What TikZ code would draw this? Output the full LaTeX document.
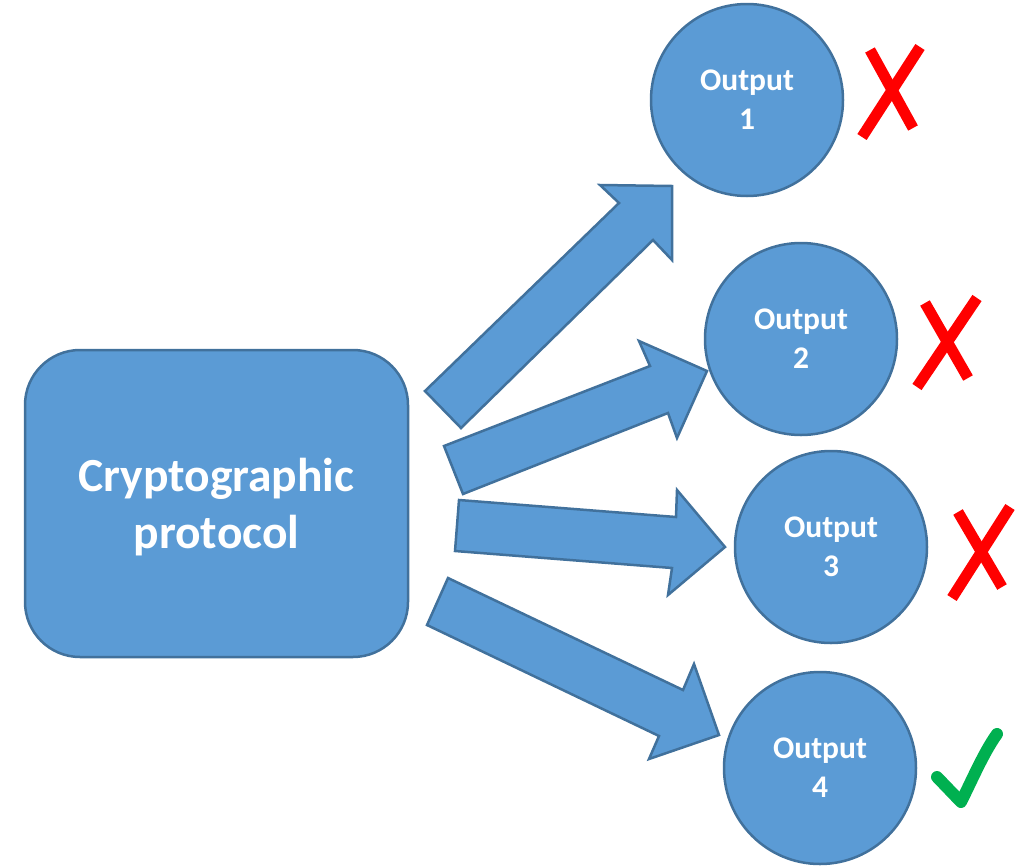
\documentclass[tikz,border=0pt]{standalone}
\usepackage{fontspec}
\setmainfont{Carlito}
\definecolor{fillblue}{HTML}{5B9BD5}
\definecolor{edgeblue}{HTML}{41719C}
\definecolor{crossred}{HTML}{FF0000}
\definecolor{tickgreen}{HTML}{00B050}
\tikzset{
  shapebase/.style={fill=fillblue, draw=edgeblue, line width=2.5pt},
  protocolbox/.style={shapebase, rectangle, rounded corners=55pt,
    minimum width=383pt, minimum height=307pt},
  protocoltext/.style={text=white, align=center,
    font=\bfseries\fontsize{47.5}{57}\selectfont},
  outcircle/.style={shapebase, circle, minimum size=192pt, inner sep=0pt,
    text=white, align=center, font=\bfseries\fontsize{31.5}{39}\selectfont},
  blockarrow/.style={shapebase, line join=miter},
  crossmark/.style={draw=crossred, line width=11pt, line cap=butt},
  tickmark/.style={draw=tickgreen, line width=12pt, line cap=round, line join=round}
}
\begin{document}
\begin{tikzpicture}[x=1pt, y=-1pt]
\useasboundingbox (0,0) rectangle (1020,865);

% block arrows from the protocol to the outputs
\draw[blockarrow] (425,391) -- (619,203) -- (600,185) -- (672,186)
  -- (672,260) -- (653,240) -- (461,428) -- cycle;
\draw[blockarrow] (444,446) -- (650,366) -- (639,341) -- (707,371)
  -- (677,438) -- (668,413) -- (463,494) -- cycle;
\draw[blockarrow] (459,500) -- (676,517) -- (677,490) -- (725,547)
  -- (668,595) -- (672,568) -- (455,551) -- cycle;
\draw[blockarrow] (448,578) -- (683,690) -- (694,664) -- (719,735)
  -- (649,759) -- (659,736) -- (427,625) -- cycle;

% protocol and outputs
\node[protocolbox] (proto) at (216.5,503.5) {};
\node[protocoltext] (protolabel) at ([yshift=-3.5pt]proto.center) {Cryptographic\\protocol};
\node[outcircle] (out1) at (747,100) {Output\\1};
\node[outcircle] (out2) at (801,339) {Output\\2};
\node[outcircle] (out3) at (831,547) {Output\\3};
\node[outcircle] (out4) at (820,768) {Output\\4};

% verdicts
\draw[crossmark] (870,50) -- (913,128);
\draw[crossmark] (920,47) -- (862,137);
\draw[crossmark] (925,303) -- (968,378);
\draw[crossmark] (977,298) -- (917,387);
\draw[crossmark] (958,512) -- (1002,587);
\draw[crossmark] (1010,507) -- (952,598);
\draw[tickmark] (937,777) -- (961,802) .. controls (972,780) and (984,752) .. (997,734);
\end{tikzpicture}
\end{document}
